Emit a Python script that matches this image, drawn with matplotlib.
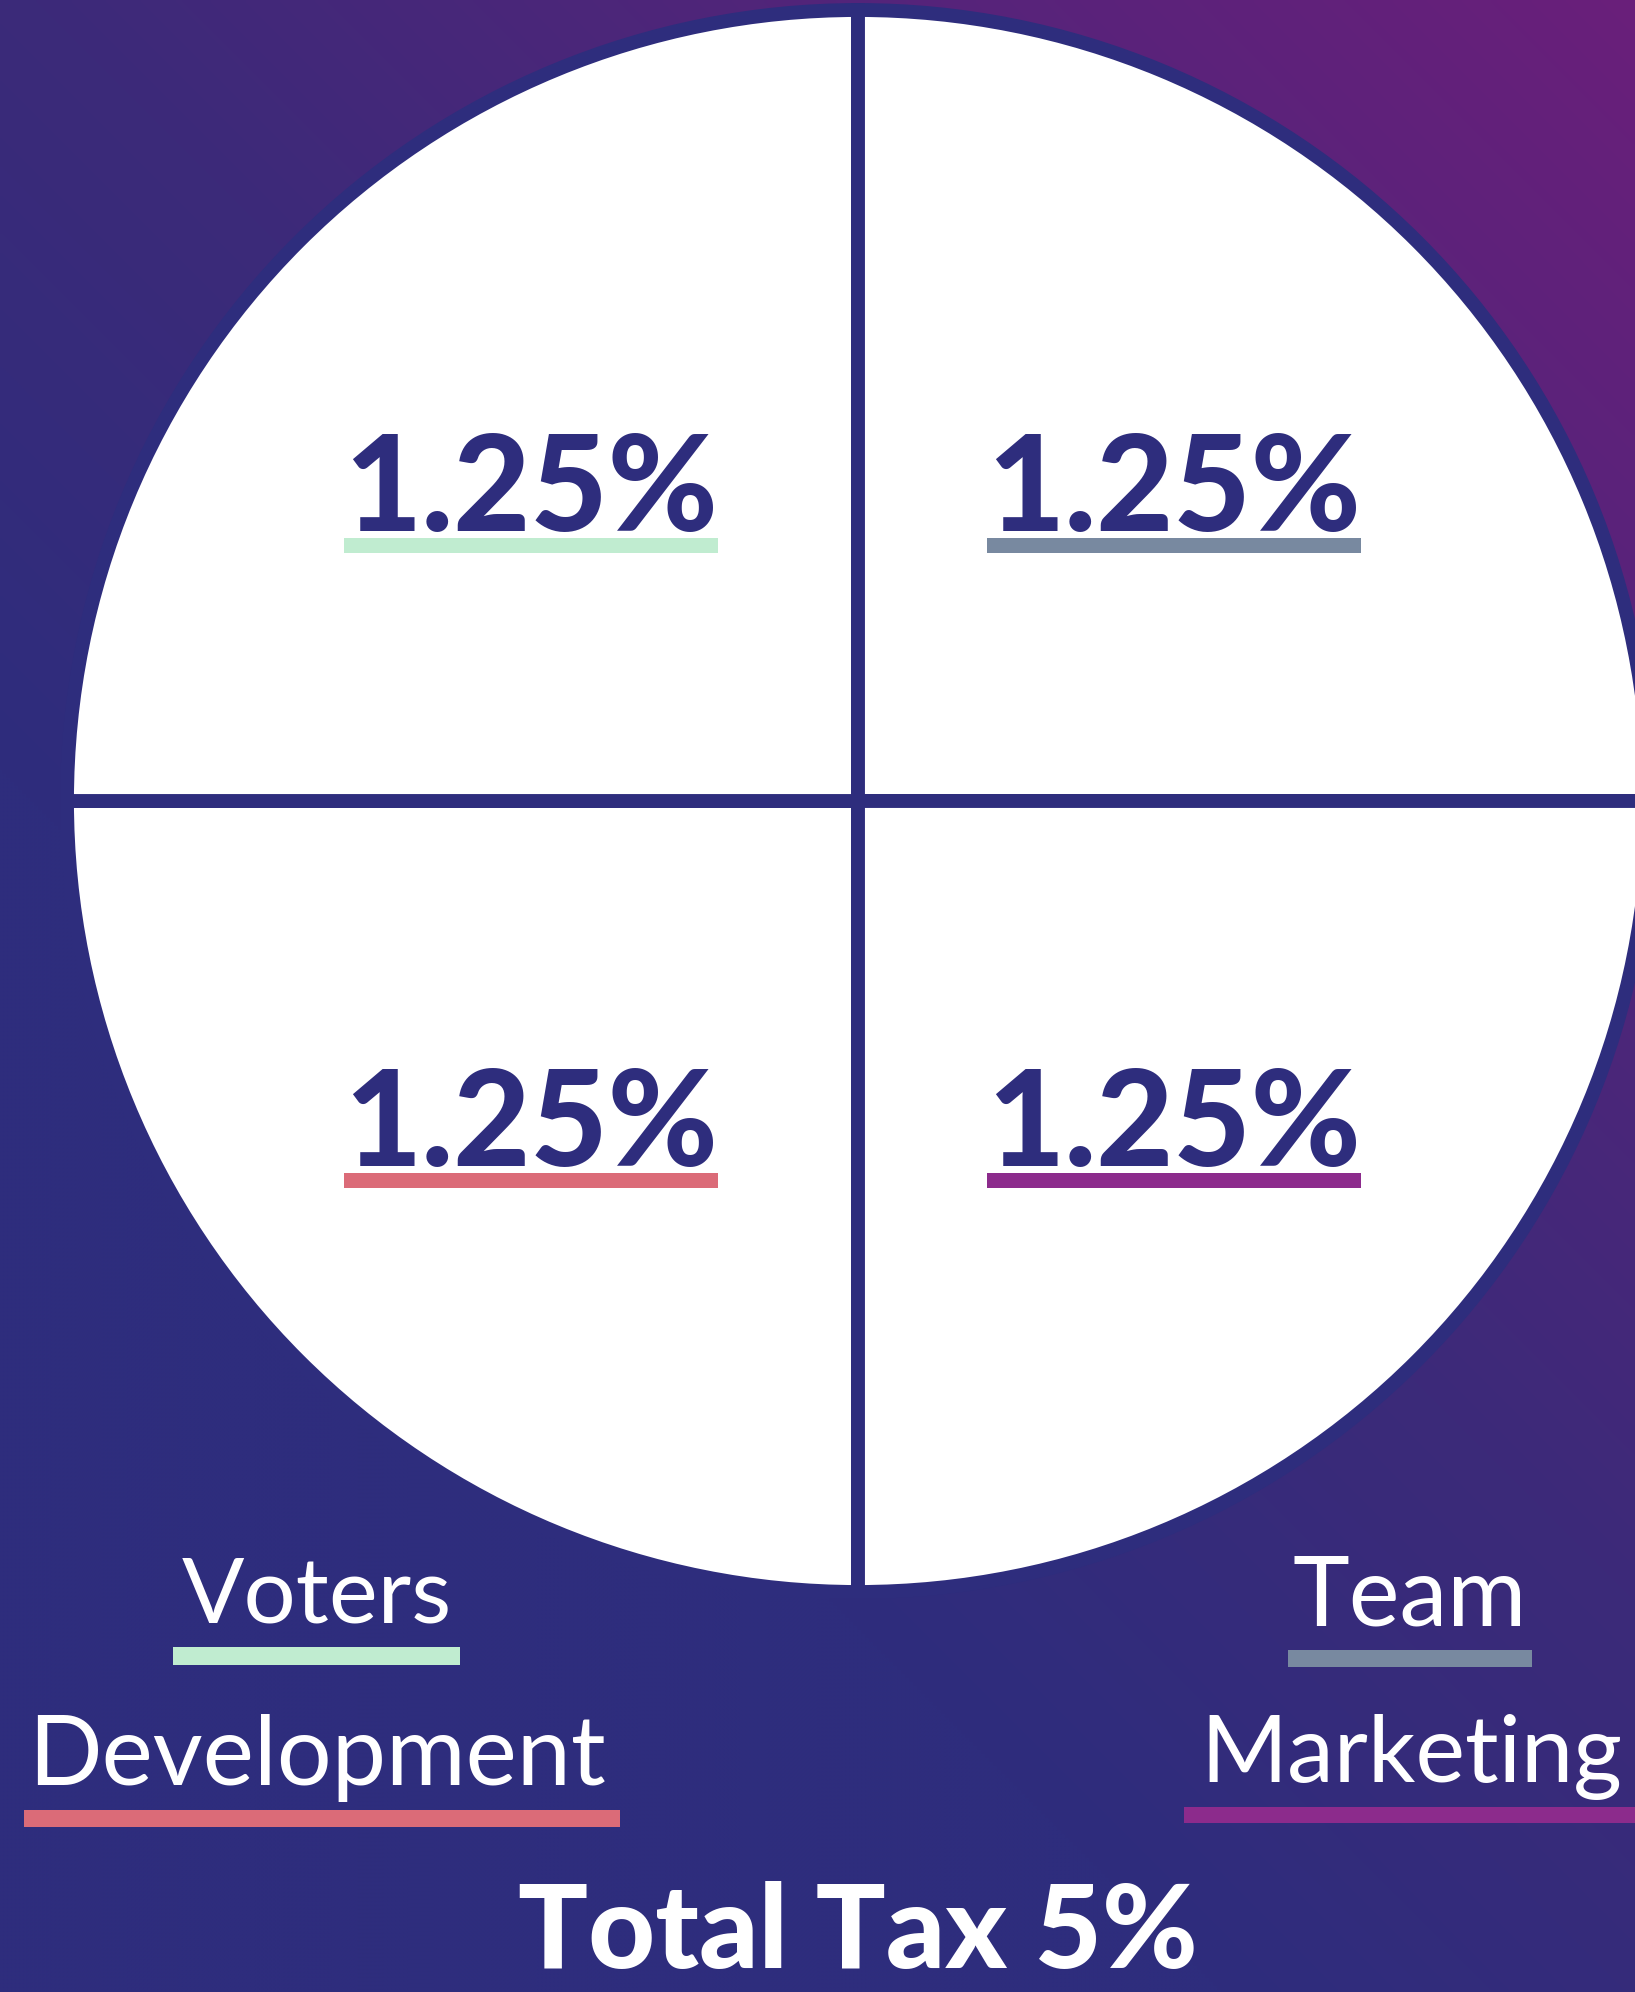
import numpy as np
import matplotlib.pyplot as plt
import matplotlib.colors as mcolors
from matplotlib.patches import Rectangle

W, H = 1635, 1992

# tax split, one wedge each (top-left, top-right, bottom-left, bottom-right)
categories = ['Voters', 'Team', 'Development', 'Marketing']
shares = [1.25, 1.25, 1.25, 1.25]
total_tax = sum(shares)

NAVY = '#2e2d7d'
accent = ['#c0ecd0', '#7889a0', '#db6b78', '#8c2b8c']

fig = plt.figure(figsize=(W / 100, H / 100), dpi=100)
ax = fig.add_axes([0, 0, 1, 1])

# diagonal purple -> navy background
yy, xx = np.mgrid[0:H:4, 0:W:4]
s = (W - xx) + yy
stops = [0, 1600, 2400]
cols = [mcolors.to_rgb(c) for c in ['#6a1f7b', '#3c2a79', NAVY]]
bg = np.dstack([np.interp(s, stops, [c[i] for c in cols]) for i in range(3)])
ax.imshow(bg, extent=[0, W, H, 0], interpolation='bilinear', zorder=0)

ax.pie(shares, colors=['white'] * len(shares), startangle=90,
       center=(858, 801), radius=791, frame=True,
       wedgeprops=dict(edgecolor=NAVY, linewidth=10))

ax.set_xlim(0, W)
ax.set_ylim(H, 0)
ax.set_aspect('auto')
ax.axis('off')

renderer = fig.canvas.get_renderer()

def fit_text(x, y, txt, width, ha='left', **kw):
    # baseline anchored text, scaled so its width matches `width` px
    t = ax.text(x, y, txt, fontsize=100, ha=ha, va='baseline', **kw)
    bb = t.get_window_extent(renderer)
    t.set_fontsize(100 * width / bb.width)
    return t

def bar(x0, x1, y0, y1, color):
    ax.add_patch(Rectangle((x0, y0), x1 - x0, y1 - y0, color=color, lw=0, zorder=5))

# percentage labels inside the wedges
pct_pos = [(344, 531), (987, 531), (344, 1166), (987, 1166)]
for (x, y), v, c in zip(pct_pos, shares, accent):
    fit_text(x, y, f'{v:.2f}%', 374, family='Lato', fontweight='black',
             color=NAVY, zorder=6)
    bar(x, x + 374, y + 7, y + 22, c)

# legend-ish labels below the pie
lab_pos = [(182, 1622, 270), (1293, 1625, 234), (28, 1785, 578), (1200, 1782, 422)]
bar_pos = [(173, 460, 1647, 1665), (1288, 1532, 1650, 1667),
           (24, 620, 1810, 1827), (1184, 1640, 1807, 1823)]
for (x, y, w), b, name, c in zip(lab_pos, bar_pos, categories, accent):
    fit_text(x, y, name, w, family='Lato', color='white', zorder=6)
    bar(*b, c)

fit_text(858, 1968, f'Total Tax {total_tax:g}%', 680, ha='center',
         family='Lato', fontweight='black', color='white', zorder=6)

fig.savefig('out.png', dpi=100)
